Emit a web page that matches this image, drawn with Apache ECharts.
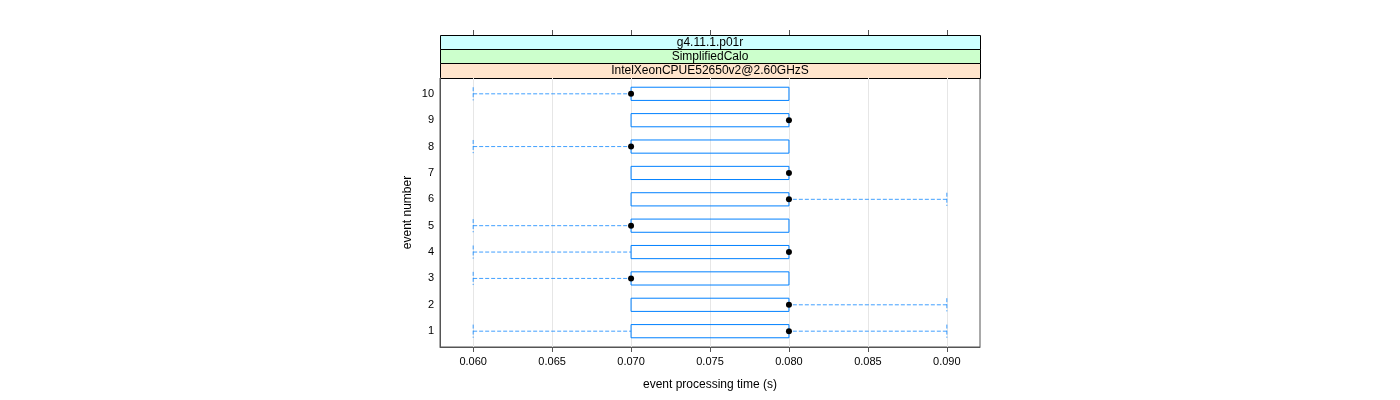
<!DOCTYPE html>
<html>
<head>
<meta charset="utf-8">
<script src="https://cdn.jsdelivr.net/npm/echarts@6/dist/echarts.min.js"></script>
<style>html,body{margin:0;padding:0;background:#fff}#c{width:1400px;height:400px}</style>
</head>
<body>
<div id="c"></div>
<script>
var events  = [1, 2, 3, 4, 5, 6, 7, 8, 9, 10];
var mins    = [0.06, 0.07, 0.06, 0.06, 0.06, 0.07, 0.07, 0.06, 0.07, 0.06];
var q1s     = [0.07, 0.07, 0.07, 0.07, 0.07, 0.07, 0.07, 0.07, 0.07, 0.07];
var medians = [0.08, 0.08, 0.07, 0.08, 0.07, 0.08, 0.08, 0.07, 0.08, 0.07];
var q3s     = [0.08, 0.08, 0.08, 0.08, 0.08, 0.08, 0.08, 0.08, 0.08, 0.08];
var maxs    = [0.09, 0.09, 0.08, 0.08, 0.08, 0.09, 0.08, 0.08, 0.08, 0.08];
var xTicks  = [0.060, 0.065, 0.070, 0.075, 0.080, 0.085, 0.090];
var yTicks  = [1, 2, 3, 4, 5, 6, 7, 8, 9, 10];
var strips  = ['g4.11.1.p01r', 'SimplifiedCalo', 'IntelXeonCPUE52650v2@2.60GHzS'];

var FONT = 'Liberation Sans, Arial, sans-serif';
var BLUE = '#0080ff';
var YMIN = 0.4, YMAX = 10.6;
var boxData = events.map(function (e, i) {
  return [e, mins[i], q1s[i], medians[i], q3s[i], maxs[i]];
});
var medData = events.map(function (e, i) { return [medians[i], e]; });

function renderGrid(params, api) {
  var v = api.value(0);
  var p1 = api.coord([v, YMIN]), p2 = api.coord([v, YMAX]);
  return { type: 'line', shape: { x1: Math.round(p1[0]) + 0.5, y1: p1[1], x2: Math.round(p2[0]) + 0.5, y2: p2[1] },
    style: { stroke: '#e6e6e6', lineWidth: 1 } };
}

function renderBox(params, api) {
  var e = api.value(0), mn = api.value(1), q1 = api.value(2), q3 = api.value(4), mx = api.value(5);
  var h = 0.25;
  var pTop = api.coord([q1, e + h]);
  var pBot = api.coord([q3, e - h]);
  var children = [];
  children.push({
    type: 'rect',
    shape: { x: pTop[0], y: pTop[1], width: pBot[0] - pTop[0], height: pBot[1] - pTop[1] },
    style: { fill: 'none', stroke: BLUE, lineWidth: 1 }
  });
  function whisk(a, b) {
    var p1 = api.coord([a, e]), p2 = api.coord([b, e]);
    children.push({
      type: 'line', shape: { x1: p1[0], y1: p1[1], x2: p2[0], y2: p2[1] },
      style: { stroke: BLUE, opacity: 0.75, lineWidth: 1, lineDash: [4, 2] }
    });
    var s1 = api.coord([a, e + h]), s2 = api.coord([a, e - h]);
    children.push({
      type: 'line', shape: { x1: s1[0], y1: s1[1], x2: s2[0], y2: s2[1] },
      style: { stroke: BLUE, opacity: 0.75, lineWidth: 1, lineDash: [4, 2] }
    });
  }
  if (mn < q1) whisk(mn, q1);
  if (mx > q3) whisk(mx, q3);
  return { type: 'group', children: children };
}

var L = 440, R = 980, T = 78;
var graphics = [];
var stripColors = ['#ccffff', '#ccffcc', '#ffe5cc'];
var stripTops = [35, 49, 63];
var stripH = [14, 14, 15];
strips.forEach(function (s, i) {
  graphics.push({
    type: 'rect', left: L, top: stripTops[i],
    shape: { width: R - L, height: stripH[i] },
    style: { fill: stripColors[i], stroke: '#000', lineWidth: 1 }
  });
  graphics.push({
    type: 'text', x: (L + R) / 2, y: stripTops[i] + stripH[i] / 2 + 0.5,
    style: { text: s, font: '12px ' + FONT, fill: '#000', align: 'center', verticalAlign: 'middle' }
  });
});

var chart = echarts.init(document.getElementById('c'));
chart.setOption({
  animation: false,
  backgroundColor: '#fff',
  grid: { left: L, right: 1400 - R, top: T, bottom: 53, show: true, borderColor: '#555', borderWidth: 1 },
  graphic: graphics,
  xAxis: [{
    type: 'value', min: 0.0579, max: 0.0921, position: 'bottom',
    name: 'event processing time (s)', nameLocation: 'middle', nameGap: 32,
    nameTextStyle: { fontFamily: FONT, fontSize: 12, color: '#000' },
    axisLine: { show: true, lineStyle: { color: '#555' } },
    axisTick: { show: true, length: 5, lineStyle: { color: '#555' }, customValues: xTicks },
    axisLabel: { fontFamily: FONT, fontSize: 11, color: '#000', margin: 9, customValues: xTicks,
      formatter: function (v) { return v.toFixed(3); } },
    splitLine: { show: false }
  }, {
    type: 'value', min: 0.0579, max: 0.0921, position: 'top', offset: 43,
    axisLine: { show: false },
    axisTick: { show: true, length: 5, lineStyle: { color: '#555' }, customValues: xTicks },
    axisLabel: { show: false },
    splitLine: { show: false }
  }],
  yAxis: [{
    type: 'value', min: YMIN, max: YMAX,
    name: 'event number', nameLocation: 'middle', nameGap: 26,
    nameTextStyle: { fontFamily: FONT, fontSize: 12, color: '#000' },
    axisLine: { show: true, lineStyle: { color: '#555' } },
    axisTick: { show: false },
    axisLabel: { fontFamily: FONT, fontSize: 11, color: '#000', margin: 6, customValues: yTicks },
    splitLine: { show: false }
  }],
  series: [{
    type: 'custom', renderItem: renderGrid, data: xTicks.map(function (t) { return [t]; }),
    encode: { x: 0 }, silent: true, z: 1
  }, {
    type: 'custom', renderItem: renderBox, data: boxData,
    encode: { x: [1, 2, 3, 4, 5], y: 0 }, silent: true, z: 2
  }, {
    type: 'scatter', data: medData, symbol: 'circle', symbolSize: 6,
    itemStyle: { color: '#000', opacity: 1 }, silent: true, z: 5
  }]
});
</script>
</body>
</html>
